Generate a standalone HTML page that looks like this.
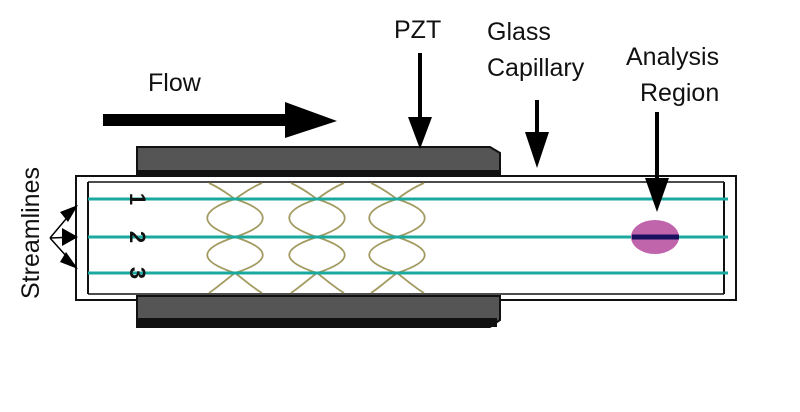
<!DOCTYPE html>
<html><head><meta charset="utf-8"><style>
html,body{margin:0;padding:0;background:#fff;}
svg{display:block;}
text{font-family:"Liberation Sans",sans-serif;fill:#111;}
</style></head><body>
<svg width="800" height="412" viewBox="0 0 800 412" xmlns="http://www.w3.org/2000/svg">
<rect width="800" height="412" fill="#fff"/>
<!-- labels -->
<text x="148" y="91" font-size="25">Flow</text>
<text x="394" y="38" font-size="25">PZT</text>
<text x="487" y="40" font-size="25">Glass</text>
<text x="487" y="76" font-size="25">Capillary</text>
<text x="626" y="65" font-size="25">Analysis</text>
<text x="640" y="101" font-size="25">Region</text>
<text transform="translate(39,233) rotate(-90)" text-anchor="middle" font-size="25">Streamlines</text>
<!-- tube -->
<rect x="76" y="176" width="660" height="124" fill="#fff" stroke="#111" stroke-width="2"/>
<line x1="88" y1="182" x2="88" y2="294" stroke="#111" stroke-width="2"/>
<line x1="88" y1="182" x2="724" y2="182" stroke="#111" stroke-width="1.5"/>
<line x1="88" y1="294" x2="724" y2="294" stroke="#111" stroke-width="1.5"/>
<line x1="724" y1="182" x2="724" y2="294" stroke="#111" stroke-width="2"/>
<!-- PZT blocks -->
<polygon points="137,147 490,147 500,153 500,176 137,176" fill="#555" stroke="#111" stroke-width="2"/>
<rect x="137" y="170" width="363" height="6" fill="#111"/>
<polygon points="137,296 500,296 500,320 490,327 137,327" fill="#555" stroke="#111" stroke-width="2"/>
<rect x="137" y="318" width="360" height="9" fill="#111"/>
<!-- lobes -->
<defs>
<g id="lobe" fill="none" stroke="#a29a60" stroke-width="1.8">
<path d="M209,183 C224,190 230,196 235,199 C272,211 272,225 235,237 C198,249 198,261 235,273 C242,278 252,287 262,293"/>
<path d="M262,183 C246,190 240,196 235,199 C198,211 198,225 235,237 C272,249 272,261 235,273 C228,278 218,287 209,293"/>
</g>
</defs>
<use href="#lobe"/>
<use href="#lobe" transform="translate(82,0)"/>
<use href="#lobe" transform="translate(162,0)"/>
<!-- streamlines -->
<g stroke="#1aa99f" stroke-width="3">
<line x1="88" y1="199" x2="728" y2="199"/>
<line x1="88" y1="237" x2="728" y2="237"/>
<line x1="88" y1="273" x2="728" y2="273"/>
</g>
<!-- analysis region -->
<ellipse cx="655" cy="237" rx="24" ry="17" fill="#c064ac"/>
<line x1="632" y1="237" x2="679" y2="237" stroke="#1a1060" stroke-width="5"/>
<!-- flow arrow -->
<rect x="103" y="114" width="185" height="12" fill="#000"/>
<polygon points="285,102 337,121 285,138" fill="#000"/>
<!-- PZT arrow -->
<rect x="418" y="53" width="4" height="70" fill="#000"/>
<polygon points="408,117 432,117 420,149" fill="#000"/>
<!-- glass arrow -->
<rect x="535" y="100" width="4" height="36" fill="#000"/>
<polygon points="525,132 549,132 537,168" fill="#000"/>
<!-- analysis arrow -->
<rect x="655" y="112" width="4" height="70" fill="#000"/>
<polygon points="645,178 669,178 657,212" fill="#000"/>
<!-- numbers -->
<g font-size="22" font-weight="bold">
<text transform="translate(130,199) rotate(90)" text-anchor="middle">1</text>
<text transform="translate(130,237) rotate(90)" text-anchor="middle">2</text>
<text transform="translate(130,273) rotate(90)" text-anchor="middle">3</text>
</g>
<!-- streamline arrows -->
<g stroke="#000" stroke-width="1.5">
<line x1="50" y1="238" x2="76" y2="207"/>
<line x1="50" y1="238" x2="76" y2="237"/>
<line x1="50" y1="238" x2="76" y2="267"/>
</g>
<polygon points="78,205 60,212 68,222" fill="#000"/>
<polygon points="78,237 62,228 62,246" fill="#000"/>
<polygon points="78,269 60,262 66,252" fill="#000"/>
</svg>
</body></html>
